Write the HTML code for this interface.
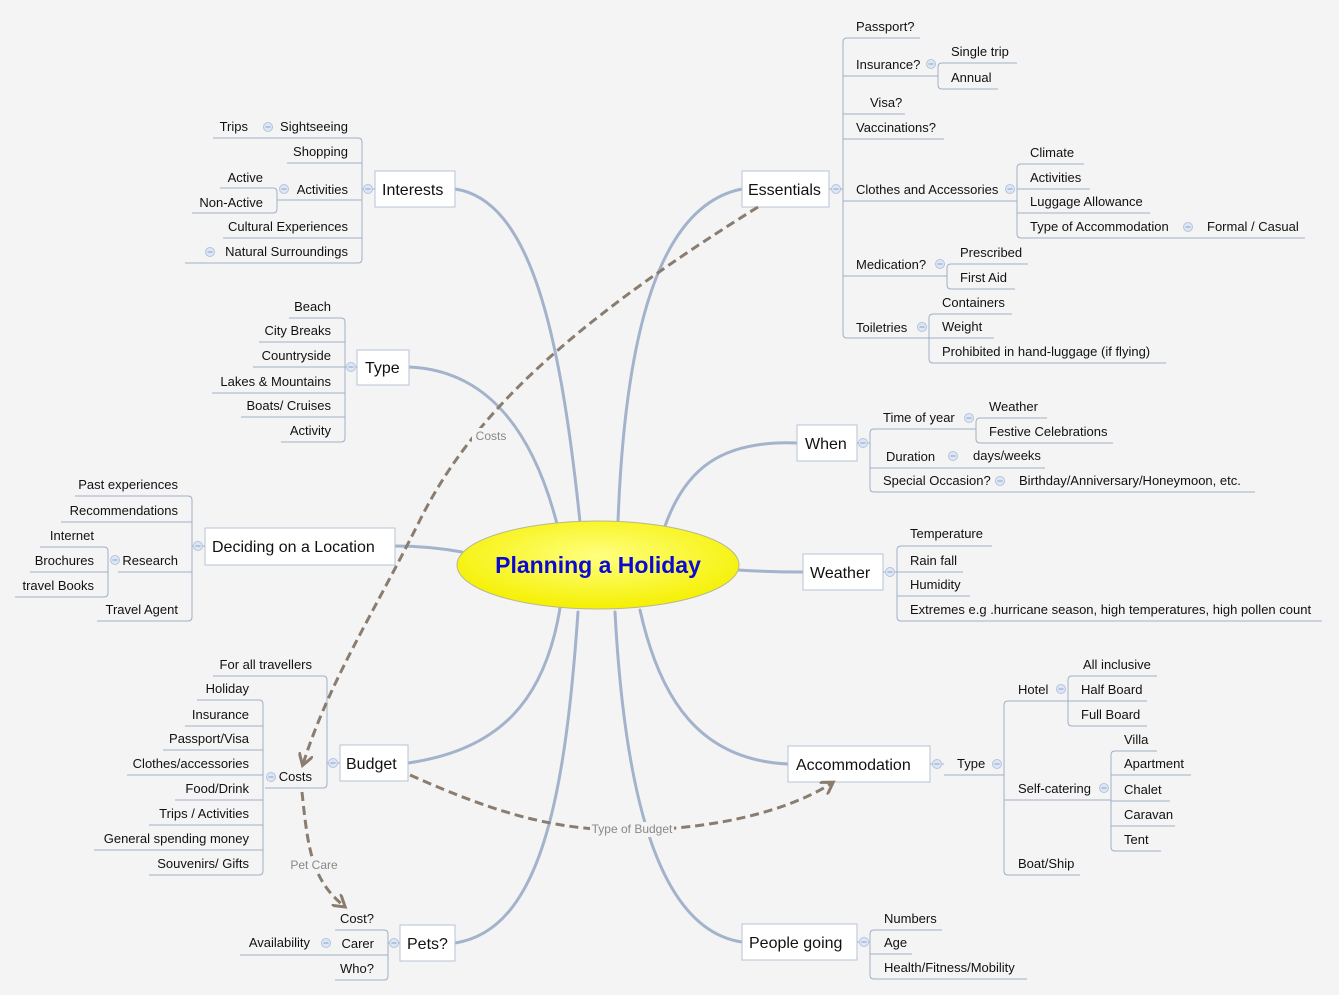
<!DOCTYPE html>
<html><head><meta charset="utf-8"><style>
html,body{margin:0;padding:0;background:#f4f4f4;}
svg{display:block;}
text{font-family:"Liberation Sans",sans-serif;font-size:13px;fill:#111;}
.e{text-anchor:end;}
.b{font-size:16px;}
.l{stroke:#9fafc8;stroke-width:1;fill:none;}
.br{stroke:#a3b3cc;stroke-width:3;fill:none;stroke-linecap:round;}
.bx{fill:#fff;stroke:#b7c3d6;stroke-width:1;}
.d{stroke:#8a7d70;stroke-width:3;fill:none;stroke-dasharray:9,5;}
.lab{fill:#888;font-size:12px;text-anchor:middle;}
</style></head><body>
<svg width="1339" height="995" viewBox="0 0 1339 995" xmlns="http://www.w3.org/2000/svg">
<defs>
<radialGradient id="yg" cx="50%" cy="40%" r="60%"><stop offset="0" stop-color="#ffff80"/><stop offset="1" stop-color="#f5f000"/></radialGradient>
<g id="c"><circle r="4.5" fill="#dde6f4" stroke="#b5c4dc"/><line x1="-2.5" y1="0" x2="2.5" y2="0" stroke="#8aa0c8"/></g>
<marker id="ah" markerWidth="5" markerHeight="5" refX="3.5" refY="2.5" orient="auto" markerUnits="strokeWidth"><path d="M0,0 L4,2.5 L0,5" fill="none" stroke="#8a7d70" stroke-width="1"/></marker>
</defs>

<!-- main branches -->
<path class="br" d="M455,189 C530,200 560,330 580,522"/>
<path class="br" d="M409,367 C480,370 530,420 557,524"/>
<path class="br" d="M395,546 C420,546 440,548 462,552"/>
<path class="br" d="M408,763 C500,750 545,700 560,608"/>
<path class="br" d="M455,943 C540,930 565,800 578,612"/>
<path class="br" d="M742,189 C660,205 625,330 618,522"/>
<path class="br" d="M797,443 C720,440 685,470 665,526"/>
<path class="br" d="M738,570 C770,572 790,572 803,572"/>
<path class="br" d="M788,764 C700,760 660,700 640,610"/>
<path class="br" d="M742,942 C660,930 625,800 615,612"/>

<!-- central -->
<ellipse cx="598" cy="565" rx="141" ry="44" fill="url(#yg)" stroke="#b8b890"/>
<text x="598" y="573" style="font-size:23px;font-weight:bold;fill:#0a0ad0;text-anchor:middle;">Planning a Holiday</text>

<!-- Interests -->
<rect class="bx" x="375" y="171" width="80" height="36"/><text class="b" x="382" y="195">Interests</text>
<path class="l" d="M362,189 H375 M358,138 Q362,138 362,142 V259 Q362,263 358,263"/>
<use href="#c" x="368" y="189"/>
<path class="l" d="M213,138 H358 M287,163 H362 M277,200 H362 M223,238 H362 M185,263 H358"/>
<text class="e" x="348" y="131">Sightseeing</text><use href="#c" x="268" y="127"/><text class="e" x="248" y="131">Trips</text>
<text class="e" x="348" y="156">Shopping</text>
<text class="e" x="348" y="194">Activities</text><use href="#c" x="284" y="189"/>
<path class="l" d="M220,188 H273 Q277,188 277,192 V209 Q277,213 273,213 H192"/>
<text class="e" x="263" y="182">Active</text><text class="e" x="263" y="207">Non-Active</text>
<text class="e" x="348" y="231">Cultural Experiences</text>
<text class="e" x="348" y="256">Natural Surroundings</text><use href="#c" x="210" y="252"/>

<!-- Type -->
<rect class="bx" x="357" y="350" width="52" height="35"/><text class="b" x="365" y="373">Type</text>
<path class="l" d="M345,367 H357 M341,318 Q345,318 345,322 V438 Q345,442 341,442"/>
<use href="#c" x="351" y="367"/>
<path class="l" d="M289,318 H341 M259,342 H345 M253,367 H345 M212,393 H345 M241,417 H345 M281,442 H341"/>
<text class="e" x="331" y="311">Beach</text>
<text class="e" x="331" y="335">City Breaks</text>
<text class="e" x="331" y="360">Countryside</text>
<text class="e" x="331" y="386">Lakes &amp; Mountains</text>
<text class="e" x="331" y="410">Boats/ Cruises</text>
<text class="e" x="331" y="435">Activity</text>

<!-- Deciding -->
<rect class="bx" x="205" y="528" width="190" height="37"/><text class="b" x="212" y="552">Deciding on a Location</text>
<path class="l" d="M192,546 H205 M188,496 Q192,496 192,500 V617 Q192,621 188,621"/>
<use href="#c" x="198" y="546"/>
<path class="l" d="M75,496 H188 M61,522 H192 M118,572 H192 M97,621 H188"/>
<text class="e" x="178" y="489">Past experiences</text>
<text class="e" x="178" y="515">Recommendations</text>
<text class="e" x="178" y="565">Research</text><use href="#c" x="115" y="560"/>
<path class="l" d="M40,547 H104 Q108,547 108,551 V593 Q108,597 104,597 H15 M30,572 H108"/>
<text class="e" x="94" y="540">Internet</text>
<text class="e" x="94" y="565">Brochures</text>
<text class="e" x="94" y="590">travel Books</text>
<text class="e" x="178" y="614">Travel Agent</text>

<!-- Budget -->
<rect class="bx" x="340" y="745" width="68" height="36"/><text class="b" x="346" y="769">Budget</text>
<path class="l" d="M327,763 H340 M323,676 Q327,676 327,680 V784 Q327,788 323,788"/>
<use href="#c" x="333" y="763"/>
<path class="l" d="M213,676 H323 M265,788 H323"/>
<text class="e" x="312" y="669">For all travellers</text>
<text class="e" x="312" y="781">Costs</text><use href="#c" x="271" y="777"/>
<path class="l" d="M259,700 Q263,700 263,704 V871 Q263,875 259,875"/>
<path class="l" d="M197,700 H259 M185,726 H263 M163,750 H263 M127,775 H263 M175,800 H263 M149,825 H263 M94,850 H263 M149,875 H259"/>
<text class="e" x="249" y="693">Holiday</text>
<text class="e" x="249" y="719">Insurance</text>
<text class="e" x="249" y="743">Passport/Visa</text>
<text class="e" x="249" y="768">Clothes/accessories</text>
<text class="e" x="249" y="793">Food/Drink</text>
<text class="e" x="249" y="818">Trips / Activities</text>
<text class="e" x="249" y="843">General spending money</text>
<text class="e" x="249" y="868">Souvenirs/ Gifts</text>

<!-- Pets -->
<rect class="bx" x="400" y="925" width="55" height="36"/><text class="b" x="407" y="949">Pets?</text>
<path class="l" d="M388,943 H400 M384,930 Q388,930 388,934 V976 Q388,980 384,980"/>
<use href="#c" x="394" y="943"/>
<path class="l" d="M335,930 H384 M240,955 H388 M335,980 H384"/>
<text class="e" x="374" y="923">Cost?</text>
<text class="e" x="374" y="948">Carer</text>
<text class="e" x="310" y="947">Availability</text><use href="#c" x="326" y="943"/>
<text class="e" x="374" y="973">Who?</text>

<!-- Essentials -->
<rect class="bx" x="742" y="171" width="87" height="36"/><text class="b" x="748" y="195">Essentials</text>
<path class="l" d="M829,189 H843 M847,38 Q843,38 843,42 V334 Q843,338 847,338"/>
<use href="#c" x="836" y="189"/>
<path class="l" d="M847,38 H920 M843,76 H938 M843,114 H905 M843,139 H944 M843,201 H1017 M843,276 H947 M847,338 H929"/>
<text x="856" y="31">Passport?</text>
<text x="856" y="69">Insurance?</text><use href="#c" x="931" y="64"/>
<path class="l" d="M942,63 Q938,63 938,67 V85 Q938,89 942,89 H998 M942,63 H1017"/>
<text x="951" y="56">Single trip</text><text x="951" y="82">Annual</text>
<text x="870" y="107">Visa?</text>
<text x="856" y="132">Vaccinations?</text>
<text x="856" y="194">Clothes and Accessories</text><use href="#c" x="1010" y="189"/>
<path class="l" d="M1021,164 Q1017,164 1017,168 V234 Q1017,238 1021,238 M1021,164 H1084 M1017,189 H1090 M1017,213 H1150 M1021,238 H1305"/>
<text x="1030" y="157">Climate</text>
<text x="1030" y="182">Activities</text>
<text x="1030" y="206">Luggage Allowance</text>
<text x="1030" y="231">Type of Accommodation</text><use href="#c" x="1188" y="227"/><text x="1207" y="231">Formal / Casual</text>
<text x="856" y="269">Medication?</text><use href="#c" x="940" y="264"/>
<path class="l" d="M951,264 Q947,264 947,268 V285 Q947,289 951,289 H1015 M951,264 H1028"/>
<text x="960" y="257">Prescribed</text><text x="960" y="282">First Aid</text>
<text x="856" y="332">Toiletries</text><use href="#c" x="922" y="327"/>
<path class="l" d="M933,314 Q929,314 929,318 V359 Q929,363 933,363 H1166 M933,314 H1012 M929,338 H994"/>
<text x="942" y="307">Containers</text><text x="942" y="331">Weight</text>
<text x="942" y="356">Prohibited in hand-luggage (if flying)</text>

<!-- When -->
<rect class="bx" x="797" y="425" width="60" height="36"/><text class="b" x="805" y="449">When</text>
<path class="l" d="M857,443 H870 M874,429 Q870,429 870,433 V488 Q870,492 874,492"/>
<use href="#c" x="863" y="443"/>
<path class="l" d="M874,429 H976 M870,468 H1045 M874,492 H1255"/>
<text x="883" y="422">Time of year</text><use href="#c" x="969" y="418"/>
<path class="l" d="M980,418 Q976,418 976,422 V439 Q976,443 980,443 H1113 M980,418 H1047"/>
<text x="989" y="411">Weather</text><text x="989" y="436">Festive Celebrations</text>
<text x="886" y="461">Duration</text><use href="#c" x="953" y="456"/><text x="973" y="460">days/weeks</text>
<text x="883" y="485">Special Occasion?</text><use href="#c" x="1000" y="481"/><text x="1019" y="485">Birthday/Anniversary/Honeymoon, etc.</text>

<!-- Weather -->
<rect class="bx" x="803" y="554" width="80" height="36"/><text class="b" x="810" y="578">Weather</text>
<path class="l" d="M883,572 H897 M901,546 Q897,546 897,550 V617 Q897,621 901,621"/>
<use href="#c" x="890" y="572"/>
<path class="l" d="M901,546 H992 M897,572 H963 M897,596 H970 M901,621 H1322"/>
<text x="910" y="538">Temperature</text>
<text x="910" y="565">Rain fall</text>
<text x="910" y="589">Humidity</text>
<text x="910" y="614">Extremes e.g .hurricane season, high temperatures, high pollen count</text>

<!-- Accommodation -->
<rect class="bx" x="788" y="746" width="142" height="36"/><text class="b" x="796" y="770">Accommodation</text>
<path class="l" d="M930,764 H944"/><use href="#c" x="937" y="764"/>
<path class="l" d="M944,775 H1004"/>
<text x="957" y="768">Type</text><use href="#c" x="997" y="764"/>
<path class="l" d="M1008,701 Q1004,701 1004,705 V871 Q1004,875 1008,875 H1080 M1008,701 H1068 M1004,800 H1111"/>
<text x="1018" y="694">Hotel</text><use href="#c" x="1061" y="689"/>
<path class="l" d="M1072,676 Q1068,676 1068,680 V722 Q1068,726 1072,726 H1147 M1072,676 H1157 M1068,701 H1147"/>
<text x="1083" y="669">All inclusive</text>
<text x="1081" y="694">Half Board</text>
<text x="1081" y="719">Full Board</text>
<text x="1018" y="793">Self-catering</text><use href="#c" x="1104" y="788"/>
<path class="l" d="M1115,751 Q1111,751 1111,755 V847 Q1111,851 1115,851 H1161 M1115,751 H1157 M1111,775 H1191 M1111,801 H1170 M1111,826 H1175"/>
<text x="1124" y="744">Villa</text>
<text x="1124" y="768">Apartment</text>
<text x="1124" y="794">Chalet</text>
<text x="1124" y="819">Caravan</text>
<text x="1124" y="844">Tent</text>
<text x="1018" y="868">Boat/Ship</text>

<!-- People going -->
<rect class="bx" x="742" y="924" width="115" height="36"/><text class="b" x="749" y="948">People going</text>
<path class="l" d="M857,942 H870 M874,930 Q870,930 870,934 V975 Q870,979 874,979 H1027 M874,930 H942 M870,954 H912"/>
<use href="#c" x="864" y="942"/>
<text x="884" y="923">Numbers</text>
<text x="884" y="947">Age</text>
<text x="884" y="972">Health/Fitness/Mobility</text>

<!-- relationships -->
<path class="d" d="M758,207 C560,330 470,420 420,520 C370,620 330,680 303,764" marker-end="url(#ah)"/>
<rect x="472" y="428" width="38" height="15" fill="#f4f4f4"/>
<text class="lab" x="491" y="440">Costs</text>
<path class="d" d="M410,775 C500,815 560,832 640,830 C720,828 790,810 832,783" marker-end="url(#ah)"/>
<rect x="590" y="822" width="84" height="15" fill="#f4f4f4"/>
<text class="lab" x="632" y="833">Type of Budget</text>
<path class="d" d="M302,792 C308,850 312,880 344,906" marker-end="url(#ah)"/>
<rect x="290" y="857" width="48" height="15" fill="#f4f4f4"/>
<text class="lab" x="314" y="869">Pet Care</text>
</svg>
</body></html>
